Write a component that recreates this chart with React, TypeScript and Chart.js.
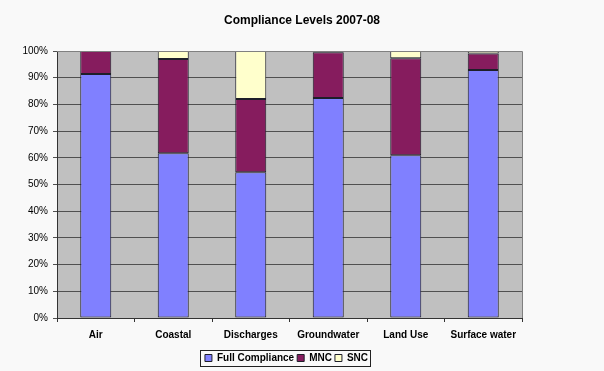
import { useEffect, useRef } from "react";
import { Chart, registerables } from "chart.js";

Chart.register(...registerables);

const categories = ["Air", "Coastal", "Discharges", "Groundwater", "Land Use", "Surface water"];
const fullCompliance = [91.4, 61.7, 54.6, 82.4, 61.0, 92.9];
const mnc = [8.6, 35.3, 27.4, 17.1, 36.3, 6.2];
const snc = [null, 3.0, 18.0, 0.5, 2.7, 0.9];
const seriesNames = ["Full Compliance", "MNC", "SNC"];
const titleText = "Compliance Levels 2007-08";

const FONT = "'Liberation Sans', Arial, sans-serif";

const deco = {
  id: "deco",
  afterLayout(chart: any) {
    const lg = chart.legend;
    if (lg) {
      lg.left -= 3;
      lg.right -= 3;
    }
    const tb = chart.titleBlock;
    if (tb) {
      tb.left = 0;
      tb.right = chart.width;
      tb.width = chart.width;
    }
  },
  beforeDraw(chart: any) {
    const { ctx, chartArea: a } = chart;
    ctx.save();
    ctx.fillStyle = "#f9f9f9";
    ctx.fillRect(0, 0, chart.width, chart.height);
    ctx.fillStyle = "#c0c0c0";
    ctx.fillRect(a.left, a.top, a.right - a.left, a.bottom - a.top);
    ctx.restore();
  },
  afterDraw(chart: any) {
    const { ctx, chartArea: a } = chart;
    ctx.save();
    ctx.strokeStyle = "#808080";
    ctx.lineWidth = 1;
    ctx.beginPath();
    ctx.moveTo(a.left, a.top + 0.5);
    ctx.lineTo(a.right + 0.5, a.top + 0.5);
    ctx.lineTo(a.right + 0.5, a.bottom);
    ctx.stroke();
    const lg = chart.legend;
    if (lg && lg.lineWidths) {
      const pad = lg.options.labels.padding;
      const cx = (lg.left + lg.right) / 2;
      const lw = lg.lineWidths[0];
      const x1 = Math.round(cx - lw / 2 - 3) + 0.5;
      const x2 = Math.round(cx + lw / 2 - pad + 3) + 0.5;
      const cy = lg.top + pad + 5;
      ctx.strokeStyle = "#222";
      ctx.strokeRect(x1, Math.round(cy - 8) + 0.5, x2 - x1, 16);
    }
    ctx.restore();
  },
};

export default function App() {
  const ref = useRef<HTMLCanvasElement>(null);
  useEffect(() => {
    document.body.style.margin = "0";
    const makeDs = (label: string, data: any[], color: string) => ({
      label,
      data,
      backgroundColor: color,
      borderColor: "#1e1e2a",
      borderWidth: 1,
      borderSkipped: false,
      categoryPercentage: 1,
      barPercentage: 0.4,
    });
    const chart = new Chart(ref.current as HTMLCanvasElement, {
      type: "bar",
      data: {
        labels: categories,
        datasets: [
          makeDs(seriesNames[0], fullCompliance, "#8080ff"),
          makeDs(seriesNames[1], mnc, "#861c5e"),
          makeDs(seriesNames[2], snc, "#ffffcc"),
        ],
      },
      options: {
        animation: false,
        responsive: false,
        maintainAspectRatio: false,
        layout: { padding: { left: 0, right: 82, top: 0, bottom: -2 } },
        plugins: {
          tooltip: { enabled: false },
          title: {
            display: true,
            text: titleText,
            color: "#000",
            font: { family: FONT, size: 12, weight: "bold" },
            padding: { top: 13, bottom: 23.6 },
          },
          legend: {
            display: true,
            position: "bottom",
            fullSize: false,
            labels: {
              color: "#000",
              font: { family: FONT, size: 10, weight: "bold" },
              boxWidth: 7,
              boxHeight: 7,
              padding: 3,
            },
          },
        },
        scales: {
          x: {
            stacked: true,
            afterFit: (s: any) => {
              s.height = 32;
            },
            grid: {
              offset: true,
              drawOnChartArea: false,
              drawTicks: true,
              tickLength: 4,
              color: "#333",
            },
            border: { display: true, color: "#333" },
            ticks: {
              color: "#000",
              padding: 7,
              maxRotation: 0,
              autoSkip: false,
              font: { family: FONT, size: 10, weight: "bold" },
            },
          },
          y: {
            stacked: true,
            min: 0,
            max: 100,
            afterFit: (s: any) => {
              s.width = 57;
            },
            grid: {
              color: "#505050",
              tickLength: 4,
              drawTicks: true,
            },
            border: { display: true, color: "#333" },
            ticks: {
              stepSize: 10,
              color: "#000",
              padding: 5,
              font: { family: FONT, size: 10 },
              callback: (v: any) => v + "%",
            },
          },
        },
      },
      plugins: [deco],
    } as any);
    return () => chart.destroy();
  }, []);
  return (
    <div style={{ position: "absolute", left: 0, top: 0, width: 604, height: 371 }}>
      <canvas ref={ref} width={604} height={371} style={{ width: 604, height: 371 }} />
    </div>
  );
}
